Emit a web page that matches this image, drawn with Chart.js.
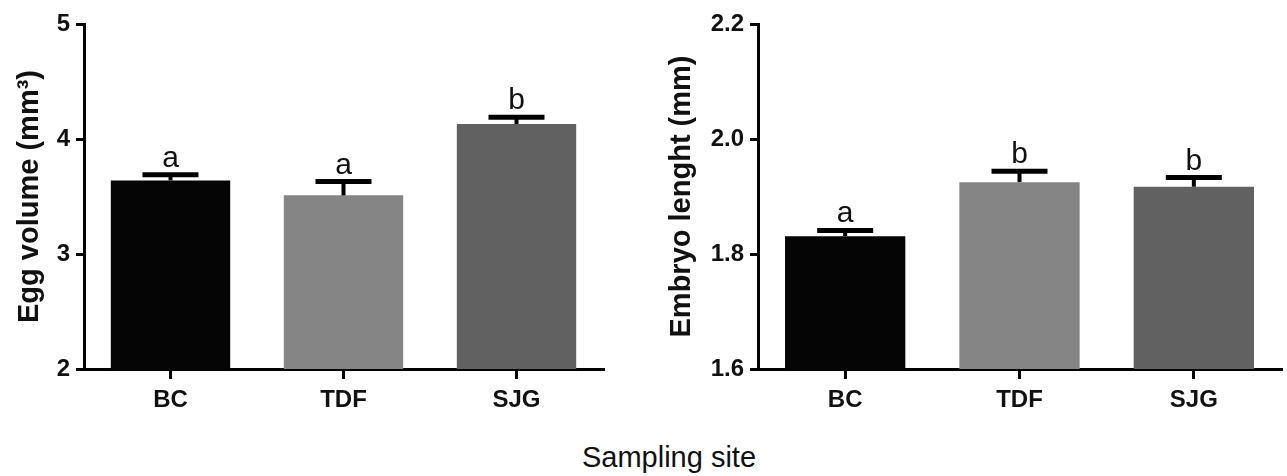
<!DOCTYPE html>
<html>
<head>
<meta charset="utf-8">
<script src="https://cdn.jsdelivr.net/npm/chart.js@4/dist/chart.umd.min.js"></script>
<style>
  body { margin: 0; background: #fff; width: 1287px; height: 476px; position: relative; overflow: hidden; }
  .box { position: absolute; top: 0; height: 420px; }
  #xtitle { position: absolute; left: 0; width: 1338px; top: 441px; text-align: center;
            font-family: "Liberation Sans", Arial, sans-serif; font-size: 29px; color: #111; }
</style>
</head>
<body>
<div class="box" style="left:0;width:606px"><canvas id="eggChart"></canvas></div>
<div class="box" style="left:640px;width:645px"><canvas id="embryoChart"></canvas></div>
<div id="xtitle">Sampling site</div>
<script>
// data
const sites = ['BC', 'TDF', 'SJG'];
const eggVolume = [3.64, 3.51, 4.13];
const eggVolumeErr = [0.05, 0.12, 0.06];
const eggLetters = ['a', 'a', 'b'];
const eggTicks = [2, 3, 4, 5];

const embryoLength = [1.831, 1.925, 1.917];
const embryoLengthErr = [0.010, 0.019, 0.016];
const embryoLetters = ['a', 'b', 'b'];
const embryoTicks = [1.6, 1.8, 2.0, 2.2];

const barColors = ['#050505', '#858585', '#616161'];
const fontFam = '"Liberation Sans", Arial, sans-serif';

// error bars (upper only) + significance letters
const errorBars = {
  id: 'errorBars',
  afterDatasetsDraw(chart, args, opts) {
    const ctx = chart.ctx;
    const yScale = chart.scales.y;
    const meta = chart.getDatasetMeta(0);
    const vals = chart.data.datasets[0].data;
    ctx.save();
    ctx.strokeStyle = '#000';
    meta.data.forEach((bar, i) => {
      const yErr = yScale.getPixelForValue(vals[i] + opts.err[i]);
      ctx.lineWidth = 4;
      ctx.beginPath();
      ctx.moveTo(bar.x, bar.y);
      ctx.lineTo(bar.x, yErr);
      ctx.stroke();
      ctx.lineWidth = 5;
      ctx.beginPath();
      ctx.moveTo(bar.x - 28, yErr);
      ctx.lineTo(bar.x + 28, yErr);
      ctx.stroke();
      ctx.fillStyle = '#111';
      ctx.font = '30px ' + fontFam;
      ctx.textAlign = 'center';
      ctx.textBaseline = 'alphabetic';
      ctx.fillText(opts.letters[i], bar.x, yErr - 8);
    });
    ctx.restore();
  }
};

function makeChart(id, values, err, letters, ticks, title, yWidth, titlePad, padRight, decimals) {
  const config = {
    type: 'bar',
    data: {
      labels: sites,
      datasets: [{
        data: values,
        backgroundColor: barColors,
        borderWidth: 0,
        categoryPercentage: 1,
        barPercentage: 0.69
      }]
    },
    options: {
      responsive: true,
      maintainAspectRatio: false,
      animation: false,
      layout: { padding: { top: 24, right: padRight, left: 0, bottom: 0 } },
      plugins: {
        legend: { display: false },
        tooltip: { enabled: false },
        errorBars: { err: err, letters: letters }
      },
      scales: {
        x: {
          offset: true,
          grid: { display: true, offset: false, drawOnChartArea: false, tickLength: 10, lineWidth: 3, color: '#000' },
          border: { color: '#000', width: 3 },
          ticks: { color: '#111', padding: 7, font: { family: fontFam, size: 24, weight: 'bold' } },
          afterFit(scale) { scale.height = 51; }
        },
        y: {
          min: ticks[0],
          max: ticks[ticks.length - 1],
          afterBuildTicks(scale) { scale.ticks = ticks.map(v => ({ value: v })); },
          grid: { drawOnChartArea: false, tickLength: 8, lineWidth: 3, color: '#000' },
          border: { color: '#000', width: 3 },
          ticks: {
            color: '#111', padding: 6,
            font: { family: fontFam, size: 24, weight: 'bold' },
            callback: v => Number(v).toFixed(decimals)
          },
          title: {
            display: true, text: title, color: '#111',
            font: { family: fontFam, size: 29, weight: 'bold' },
            padding: { top: titlePad, bottom: 0 }
          },
          afterFit(scale) { scale.width = yWidth; }
        }
      }
    },
    plugins: [errorBars]
  };
  const ctx = document.getElementById(id).getContext('2d');
  return new Chart(ctx, config);
}

makeChart('eggChart', eggVolume, eggVolumeErr, eggLetters, eggTicks, 'Egg volume (mm³)', 84, 13, 3, 0);
makeChart('embryoChart', embryoLength, embryoLengthErr, embryoLetters, embryoTicks, 'Embryo lenght (mm)', 118, 25, 4, 1);
</script>
</body>
</html>
